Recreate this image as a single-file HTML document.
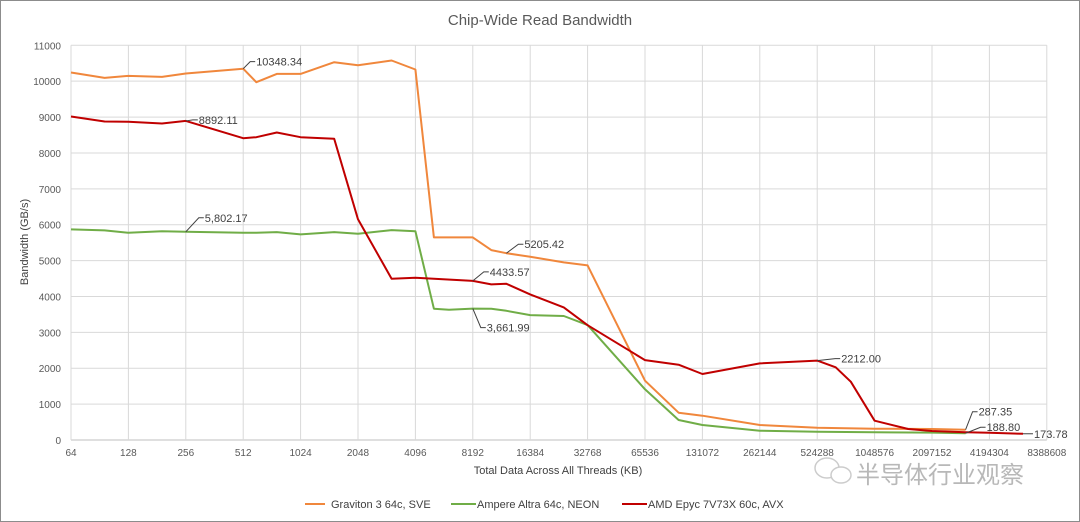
<!DOCTYPE html>
<html><head><meta charset="utf-8"><style>
html,body{margin:0;padding:0;background:#fff}
svg{display:block;font-family:"Liberation Sans","Noto Sans CJK SC",sans-serif}
</style></head><body>
<svg id="chart" width="1080" height="522" viewBox="0 0 1080 522">
<rect x="0.5" y="0.5" width="1079" height="521" fill="#fff" stroke="#8c8c8c"/>
<text x="540" y="25" text-anchor="middle" font-size="15" fill="#595959">Chip-Wide Read Bandwidth</text>
<g id="grid"></g>
<g id="yticks"></g>
<g id="xticks"></g>
<text transform="translate(28,242) rotate(-90)" text-anchor="middle" font-size="11" fill="#404040">Bandwidth (GB/s)</text>
<text x="558" y="474" text-anchor="middle" font-size="11" fill="#404040">Total Data Across All Threads (KB)</text>
<g id="series"></g>
<g id="labels"></g>
<g font-size="11" fill="#404040">
<g><line x1="305" y1="504" x2="325" y2="504" stroke="#f0873c" stroke-width="2"/><text x="331" y="508">Graviton 3 64c, SVE</text></g>
<g><line x1="451" y1="504" x2="476" y2="504" stroke="#70ad47" stroke-width="2"/><text x="477" y="508">Ampere Altra 64c, NEON</text></g>
<g><line x1="622" y1="504" x2="647" y2="504" stroke="#c00000" stroke-width="2"/><text x="648" y="508">AMD Epyc 7V73X 60c, AVX</text></g>
</g>
<g fill="#bbb">
<ellipse cx="827" cy="468" rx="12" ry="10" fill="none" stroke="#ccc" stroke-width="1.5"/>
<ellipse cx="841" cy="475" rx="10" ry="8" fill="#fff" stroke="#ccc" stroke-width="1.5"/>
<text x="856" y="483" font-size="24" fill="#b8b8b8" font-family="'Noto Sans CJK SC',sans-serif">半导体行业观察</text>
</g>
</svg>
<script>
const xTickLabels=[64,128,256,512,1024,2048,4096,8192,16384,32768,65536,131072,262144,524288,1048576,2097152,4194304,8388608];
const yTickValues=[0,1000,2000,3000,4000,5000,6000,7000,8000,9000,10000,11000];
const gravitonX=[64,96,128,192,256,512,600,768,1024,1536,2048,3072,4096,5120,8192,10240,12288,16384,24576,32768,65536,98304,131072,262144,524288,1048576,2097152,3145728];
const gravitonY=[10242,10092,10148,10120,10214,10348.34,9972,10203,10203,10529,10446,10576,10326,5646,5646,5292,5205.42,5106,4950,4866,1652,760,677,418,343,315,306,287.35];
const ampereX=[64,96,128,192,256,512,600,768,1024,1536,2048,3072,4096,5120,6144,8192,10240,12288,16384,24576,32768,65536,98304,131072,262144,524288,1048576,2097152,3145728];
const ampereY=[5869,5841,5775,5820,5802.17,5775,5775,5795,5729,5795,5748,5850,5820,3658,3630,3661.99,3658,3602,3482,3455,3203,1412,557,418,259,231,214,205,188.8];
const amdX=[64,96,128,192,256,512,600,768,1024,1536,2048,3072,4096,5120,8192,10240,12288,16384,24576,32768,65536,98304,131072,262144,524288,655360,786432,1048576,1572864,2097152,3145728,4194304,6291456];
const amdY=[9017,8877,8870,8820,8892.11,8412,8440,8570,8440,8393,6150,4494,4521,4494,4433.57,4336,4354,4058,3696,3200,2228,2098,1838,2136,2212,2025,1624,538,306,250,215,204,173.78];

const NS="http://www.w3.org/2000/svg";
const X0=71,XSTEP=57.4,Y0=440,Y11=45.3;
const xs=v=>X0+Math.log2(v/64)*XSTEP;
const ys=v=>Y0-(v/11000)*(Y0-Y11);
function mk(tag,attrs,parent){const e=document.createElementNS(NS,tag);for(const k in attrs)e.setAttribute(k,attrs[k]);parent.appendChild(e);return e;}
const grid=document.getElementById('grid'),yt=document.getElementById('yticks'),xt=document.getElementById('xticks');
yTickValues.forEach(v=>{
  const l=mk('line',{x1:X0,x2:xs(8388608),y1:ys(v),y2:ys(v),stroke:v===0?'#bfbfbf':'#d9d9d9','stroke-width':1},grid);
  
  
  const t=mk('text',{x:61,y:ys(v)+4,'text-anchor':'end','font-size':10,fill:'#595959'},yt);
  t.textContent=v;
  
  
});
xTickLabels.forEach(v=>{
  const l=mk('line',{x1:xs(v),x2:xs(v),y1:Y11,y2:Y0,stroke:'#d9d9d9','stroke-width':1},grid);
  
  
  const t=mk('text',{x:xs(v),y:456,'text-anchor':'middle','font-size':10,fill:'#595959'},xt);
  t.textContent=v;
  
  
});
const ser=document.getElementById('series');
function line(X,Y,color,name){
  const p=mk('polyline',{points:X.map((x,i)=>xs(x).toFixed(1)+','+ys(Y[i]).toFixed(1)).join(' '),fill:'none',stroke:color,'stroke-width':2,'stroke-linejoin':'round'},ser);
  
  
}
line(gravitonX,gravitonY,'#f0873c','graviton-line');
line(ampereX,ampereY,'#70ad47','ampere-line');
line(amdX,amdY,'#c00000','amd-line');

const lab=document.getElementById('labels');
function label(X,Y,idx,dx,dy,txt,name){
  const px=xs(X[idx]),py=ys(Y[idx]);
  const tx=px+dx,ty=py+dy;
  mk('polyline',{points:`${px},${py} ${tx-6},${ty} ${tx-1},${ty}`,fill:'none',stroke:'#404040','stroke-width':1},lab);
  const t=mk('text',{x:tx,y:ty+4,'font-size':11,fill:'#404040'},lab);
  t.textContent=txt;
  
  
}
label(gravitonX,gravitonY,5,13,-7,'10348.34','label-graviton-512');
label(amdX,amdY,4,13,-1,'8892.11','label-amd-256');
label(ampereX,ampereY,4,19,-14,'5,802.17','label-ampere-256');
label(gravitonX,gravitonY,16,18,-9,'5205.42','label-graviton-12288');
label(amdX,amdY,14,17,-9,'4433.57','label-amd-8192');
label(ampereX,ampereY,15,14,19,'3,661.99','label-ampere-8192');
label(amdX,amdY,24,24,-2,'2212.00','label-amd-524288');
label(gravitonX,gravitonY,27,13,-18,'287.35','label-graviton-last');
label(ampereX,ampereY,28,21,-6,'188.80','label-ampere-last');
label(amdX,amdY,32,11,0,'173.78','label-amd-last');
</script>
</body></html>
